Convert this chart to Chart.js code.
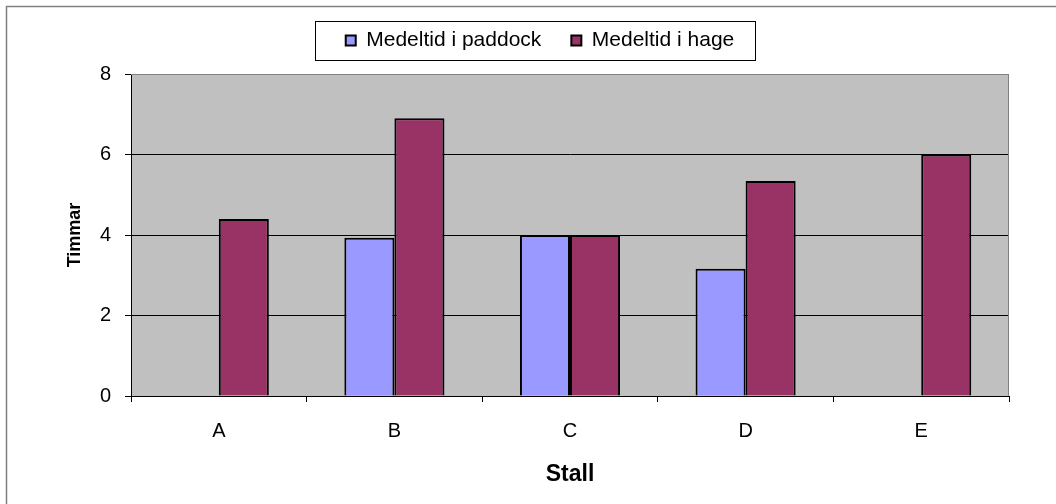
<!DOCTYPE html>
<html><head><meta charset="utf-8">
<script src="https://cdn.jsdelivr.net/npm/chart.js@4"></script>
<style>html,body{margin:0;padding:0;background:#fff}#wrap{width:1056px;height:504px}</style>
</head><body><div id="wrap"><canvas id="c" width="1056" height="504"></canvas></div>
<script>
const categories = ['A', 'B', 'C', 'D', 'E'];
const paddockValues = [null, 3.93, 4.0, 3.16, null];
const hageValues = [4.4, 6.9, 4.0, 5.34, 6.0];
const seriesNames = ['Medeltid i paddock', 'Medeltid i hage'];
const yTickValues = [0, 2, 4, 6, 8];
const xTitle = 'Stall';
const yTitle = 'Timmar';

const FONT = "'Liberation Sans', Arial, sans-serif";

const framePlugin = {
  id: 'frame',
  beforeDraw(chart) {
    const ctx = chart.ctx, a = chart.chartArea;
    ctx.save();
    ctx.fillStyle = '#ffffff';
    ctx.fillRect(0, 0, chart.width, chart.height);
    ctx.strokeStyle = '#808080';
    ctx.lineWidth = 1.5;
    ctx.strokeRect(6.5, 6.5, chart.width + 50, chart.height + 50);
    ctx.fillStyle = '#C0C0C0';
    ctx.fillRect(a.left, a.top, a.right - a.left, a.bottom - a.top);
    ctx.restore();
  },
  afterDraw(chart) {
    const ctx = chart.ctx, a = chart.chartArea;
    ctx.save();
    ctx.strokeStyle = '#808080';
    ctx.lineWidth = 1;
    ctx.beginPath();
    ctx.moveTo(a.left, a.top + 0.5);
    ctx.lineTo(a.right - 0.5, a.top + 0.5);
    ctx.lineTo(a.right - 0.5, a.bottom);
    ctx.stroke();
    const hb = chart.legend && chart.legend.legendHitBoxes;
    if (hb && hb.length) {
      let minX = Infinity, maxX = -Infinity, minY = Infinity, maxY = -Infinity;
      hb.forEach(h => { minX = Math.min(minX, h.left); maxX = Math.max(maxX, h.left + h.width);
        minY = Math.min(minY, h.top); maxY = Math.max(maxY, h.top + h.height); });
      ctx.strokeStyle = '#000';
      ctx.lineWidth = 1;
      const cy = (minY + maxY) / 2;
      ctx.strokeRect(Math.round(minX - 31) + 0.5, Math.round(cy - 19.5) + 0.5, Math.round(maxX - minX + 51), 39);
    }
    ctx.restore();
  }
};

new Chart(document.getElementById('c'), {
  type: 'bar',
  data: {
    labels: categories,
    datasets: [
      { label: seriesNames[0], data: paddockValues, backgroundColor: '#9999FF', borderColor: '#000', borderWidth: 2 },
      { label: seriesNames[1], data: hageValues, backgroundColor: '#993366', borderColor: '#000', borderWidth: 2 }
    ]
  },
  options: {
    responsive: false,
    animation: false,
    devicePixelRatio: 1,
    layout: { padding: { left: 24, right: 0, top: 0, bottom: 0 } },
    datasets: { bar: { categoryPercentage: 0.57, barPercentage: 1.0 } },
    plugins: {
      legend: {
        position: 'top',
        labels: {
          font: { family: FONT, size: 21 },
          color: '#000',
          boxWidth: 10,
          boxHeight: 10,
          padding: 30
        }
      },
      subtitle: {
        display: true,
        text: '',
        position: 'top',
        weight: 1,
        font: { size: 1, lineHeight: 1 },
        padding: { top: 12, bottom: 0 }
      },
      tooltip: { enabled: false }
    },
    scales: {
      x: {
        afterFit(s) { s.height = 108; },
        grid: { display: true, drawOnChartArea: false, drawTicks: true, tickLength: 6, color: '#000', offset: true },
        border: { display: true, color: '#000', width: 1 },
        ticks: { font: { family: FONT, size: 20 }, color: '#000', padding: 17 },
        title: { display: true, text: xTitle, font: { family: FONT, size: 23, weight: 'bold' }, color: '#000', padding: { top: 0, bottom: 16 } }
      },
      y: {
        min: 0, max: 8,
        afterFit(s) { s.width = 107; },
        afterBuildTicks(s) { s.ticks = yTickValues.map(v => ({ value: v })); },
        grid: {
          color: c => (c.tick && c.tick.value === 8) ? '#808080' : '#000',
          tickColor: '#000',
          tickLength: 6,
          lineWidth: 1
        },
        border: { display: true, color: '#000', width: 1 },
        ticks: { font: { family: FONT, size: 20 }, color: '#000', padding: 14 },
        title: { display: true, text: yTitle, font: { family: FONT, size: 18, weight: 'bold' }, color: '#000', padding: { top: 40, bottom: 0 } }
      },
      yRight: {
        type: 'linear',
        position: 'right',
        display: true,
        afterFit(s) { s.width = 47; },
        grid: { display: false, drawTicks: false },
        border: { display: false },
        ticks: { display: false },
        title: { display: false }
      }
    }
  },
  plugins: [framePlugin]
});
</script></body></html>
